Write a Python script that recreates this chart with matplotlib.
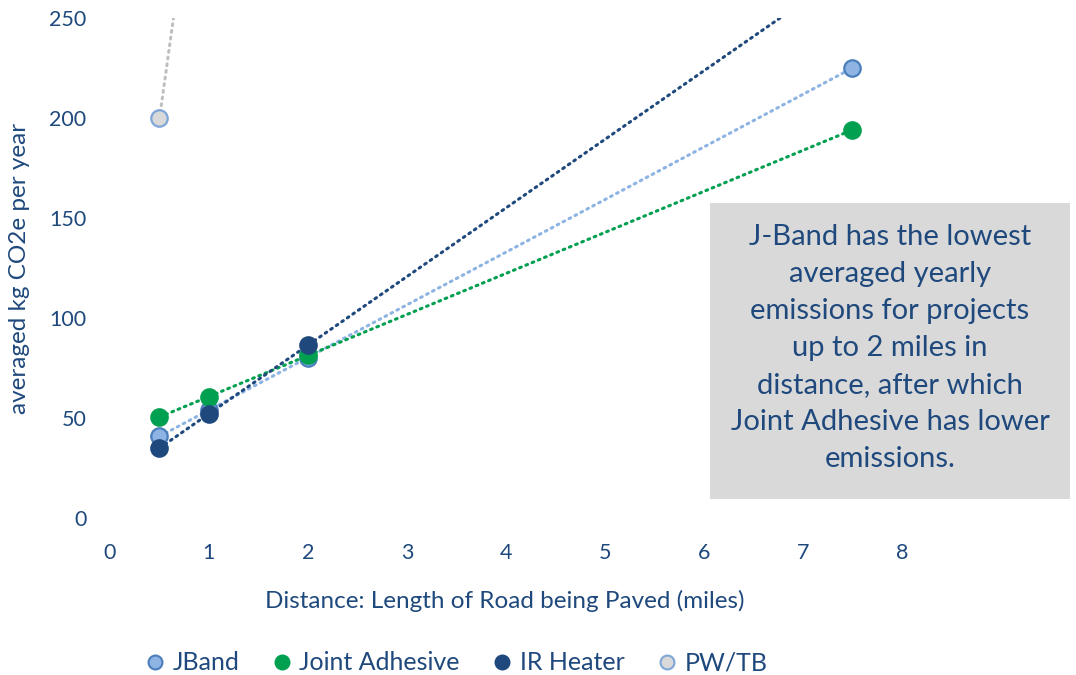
"""Averaged yearly emissions vs. length of road paved, per joint treatment."""

import matplotlib.pyplot as plt
import numpy as np
from matplotlib.lines import Line2D

plt.rcParams["font.family"] = ["Lato", "DejaVu Sans"]

TEXT = "#1F497D"

distance = [0.5, 1, 2, 7.5]
jband = [41, 54, 80, 225]
joint_adhesive = [50.5, 60.5, 81.5, 194]
ir_heater = [35, 52, 86.5, 275]
pw_tb = [200, 378, 735, 2700]

series = [
    ("JBand", jband, "#8EB4E3", "#4A7EBB", "#8EB4E3"),
    ("Joint Adhesive", joint_adhesive, "#00A050", "#00A050", "#00A050"),
    ("IR Heater", ir_heater, "#1F497D", "#1F497D", "#1F497D"),
    ("PW/TB", pw_tb, "#D9D9D9", "#7EA6D8", "#BFBFBF"),
]

fig = plt.figure(figsize=(10.76, 6.75), dpi=100)
ax = fig.add_axes([0.1022, 0.2326, 0.8922, 0.7407])

x = np.array(distance)
for name, vals, face, edge, trend in series:
    y = np.array(vals, dtype=float)
    k, b = np.polyfit(x, y, 1)
    xs = np.array([x.min(), x.max()])
    ax.plot(xs, k * xs + b, color=trend, lw=2.2, ls=(0, (0.6, 1.6)),
            dash_capstyle="round", zorder=2)
    ax.scatter(x, y, s=140, color=face, edgecolor=edge, linewidth=1.6,
               zorder=3)

ax.set_xlim(0, 9.7)
ax.set_ylim(0, 250)
ax.set_xticks(range(0, 9))
ax.set_yticks(range(0, 251, 50))
for s in ax.spines.values():
    s.set_visible(False)
ax.tick_params(length=0, labelsize=15.5, colors=TEXT)
ax.tick_params(axis="x", pad=18)
ax.tick_params(axis="y", pad=17)
ax.set_xlabel("Distance: Length of Road being Paved (miles)", fontsize=17.5,
              color=TEXT)
ax.set_ylabel("averaged kg CO2e per year", fontsize=17.5, color=TEXT)
ax.xaxis.set_label_coords((505 - 110) / 960, -(590 - 518) / 500)
ax.yaxis.set_label_coords(-(110 - 30) / 960, 0.5)

# note box over the right side of the plot
fig.patches.append(plt.Rectangle((710 / 1076, 1 - 499 / 675), 360 / 1076,
                                 296 / 675, transform=fig.transFigure,
                                 facecolor="#D9D9D9", edgecolor="none",
                                 zorder=5))
fig.text(890 / 1076, 1 - 348 / 675,
         "J-Band has the lowest\naveraged yearly\nemissions for projects\n"
         "up to 2 miles in\ndistance, after which\nJoint Adhesive has lower\n"
         "emissions.",
         ha="center", va="center", fontsize=21, color=TEXT, linespacing=1.53,
         zorder=6)

handles = [Line2D([], [], ls="none", marker="o", markersize=10,
                  markerfacecolor=face, markeredgecolor=edge,
                  markeredgewidth=1.5, label=name)
           for name, _, face, edge, _ in series]
fig.legend(handles=handles, loc="center", bbox_to_anchor=(0.424, 1 - 663 / 675),
           ncol=4, frameon=False, fontsize=18, handlelength=0.8,
           handletextpad=0.3, columnspacing=1.3, labelcolor=TEXT)

fig.savefig("out.png", dpi=100)
